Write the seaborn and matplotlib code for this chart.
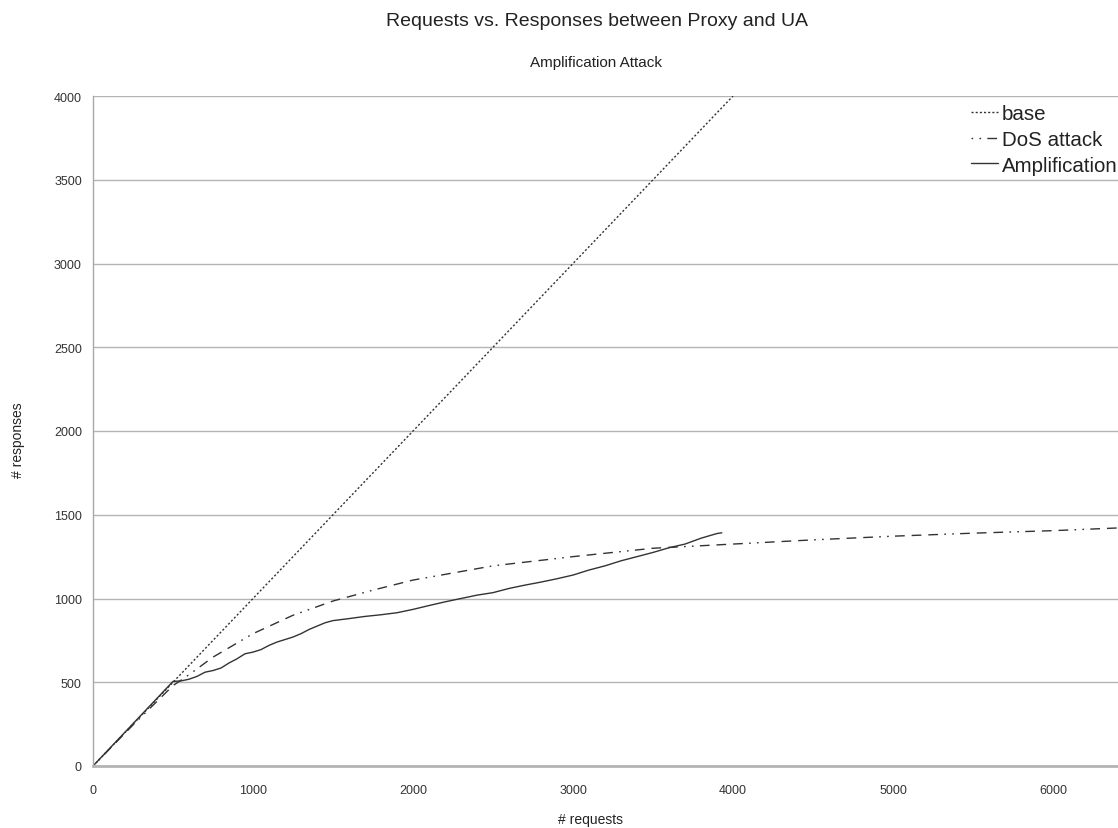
import pandas as pd
import seaborn as sns
from matplotlib import pyplot as plt

# values
base_x = [0, 4000]
base_y = [0, 4000]

dos_x = [0, 250, 500, 600, 750, 1000, 1250, 1500, 1750, 2000, 2500, 3000,
         3500, 4000, 4500, 5000, 5500, 6000, 6500]
dos_y = [0, 245, 480, 545, 650, 790, 900, 985, 1050, 1110, 1195, 1250,
         1300, 1325, 1350, 1372, 1390, 1405, 1425]

amp_x = [0, 500, 550, 600, 650, 700, 750, 800, 850, 900, 950, 1000, 1050,
         1100, 1150, 1200, 1250, 1300, 1350, 1400, 1450, 1500, 1600, 1700,
         1800, 1900, 2000, 2100, 2200, 2300, 2400, 2500, 2600, 2700, 2800,
         2900, 3000, 3100, 3200, 3300, 3400, 3500, 3600, 3700, 3800, 3900, 3930]
amp_y = [0, 505, 508, 518, 535, 560, 570, 585, 615, 640, 670, 680, 695,
         720, 740, 755, 770, 790, 815, 835, 855, 868, 880, 893,
         903, 915, 935, 958, 980, 1000, 1020, 1035, 1060, 1080, 1098,
         1118, 1140, 1170, 1195, 1225, 1250, 1275, 1303, 1325, 1360, 1388, 1392]

y_ticks = [0, 500, 1000, 1500, 2000, 2500, 3000, 3500, 4000]
x_ticks = [0, 1000, 2000, 3000, 4000, 5000, 6000]

sns.set_style("white")
plt.rcParams['font.family'] = ['Liberation Sans Narrow', 'Liberation Sans', 'DejaVu Sans']

fig = plt.figure(figsize=(11.18, 8.29), dpi=100)
ax = fig.add_axes([93 / 1118, 1 - 767 / 829, 1 - 93 / 1118, (767 - 97) / 829])

line_col = "#333333"
base_df = pd.DataFrame({"x": base_x, "y": base_y})
dos_df = pd.DataFrame({"x": dos_x, "y": dos_y})
amp_df = pd.DataFrame({"x": amp_x, "y": amp_y})

sns.lineplot(x="x", y="y", data=base_df, ax=ax, color=line_col, lw=1.0,
             label="base", linestyle=(0, (1.5, 1.5)))
sns.lineplot(x="x", y="y", data=dos_df, ax=ax, color=line_col, lw=1.0,
             label="DoS attack",
             linestyle=(0, (1.2, 4.5, 1.2, 4.5, 7, 5, 7, 5, 7, 4.5)))
sns.lineplot(x="x", y="y", data=amp_df, ax=ax, color=line_col, lw=1.0,
             label="Amplification")

ax.set_xlim(0, 6406)
ax.set_ylim(0, 4000)
ax.set_xticks(x_ticks)
ax.set_yticks(y_ticks)
ax.yaxis.grid(True, color="#b4b4b4", lw=1.0)
ax.set_axisbelow(True)

for s in ["top", "right"]:
    ax.spines[s].set_visible(False)
ax.spines["left"].set_color("#a8a8a8")
ax.spines["left"].set_linewidth(1.0)
ax.spines["bottom"].set_color("#b4b4b4")
ax.spines["bottom"].set_linewidth(2.0)

ax.tick_params(axis="both", direction="out", length=5, width=1,
               color="#a8a8a8", labelsize=9, labelcolor="#333333")
ax.tick_params(axis="x", pad=8)
ax.tick_params(axis="y", pad=3)
ax.set_xlabel("")
ax.set_ylabel("")

fig.text(597 / 1118, 1 - 21 / 829, "Requests vs. Responses between Proxy and UA",
         ha="center", va="center", fontsize=14, color="#222222")
fig.text(596 / 1118, 1 - 63 / 829, "Amplification Attack",
         ha="center", va="center", fontsize=11, color="#222222")
fig.text(591 / 1118, 1 - 820 / 829, "# requests",
         ha="center", va="center", fontsize=10, color="#222222")
fig.text(18 / 1118, 1 - 440 / 829, "# responses", rotation=90,
         ha="center", va="center", fontsize=10, color="#222222")

leg = ax.legend(loc="upper left", bbox_to_anchor=(971 / 1118, 1 - 105 / 829),
                bbox_transform=fig.transFigure, frameon=False, fontsize=14.8,
                handlelength=1.3, handletextpad=0.2, labelspacing=0.33,
                borderpad=0, borderaxespad=0)
for t in leg.get_texts():
    t.set_color("#222222")

fig.savefig("out.png", dpi=100)
